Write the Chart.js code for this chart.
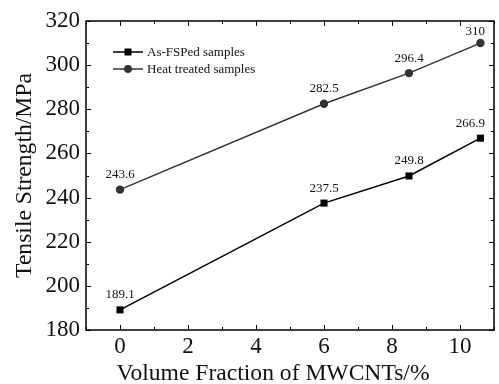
<!DOCTYPE html>
<html><head><meta charset="utf-8">
<script src="https://cdn.jsdelivr.net/npm/chart.js@4"></script>
<style>html,body{margin:0;padding:0;background:#fff}#w{width:499px;height:384px}</style>
</head><body><div id="w"><canvas id="c" width="499" height="384"></canvas></div>
<script>
const xValues = [0, 6, 8.5, 10.6];
const asFSPed = [189.1, 237.5, 249.8, 266.9];
const heatTreated = [243.6, 282.5, 296.4, 310];
const seriesNames = ['As-FSPed samples', 'Heat treated samples'];
const xTicks = [0, 2, 4, 6, 8, 10];
const yTicks = [180, 200, 220, 240, 260, 280, 300, 320];
const xTitle = 'Volume Fraction of MWCNTs/%';
const yTitle = 'Tensile Strength/MPa';
const FONT = '"Liberation Serif", "Times New Roman", serif';

const tickPlugin = {
  id: 'ticksIn',
  afterDatasetsDraw(chart) {
    const ctx = chart.ctx, a = chart.chartArea;
    const xs = chart.scales.x, ys = chart.scales.y;
    ctx.save();
    ctx.strokeStyle = '#000'; ctx.lineWidth = 1;
    for (let v = -1; v <= 11; v++) {
      const px = Math.round(xs.getPixelForValue(v)) + 0.5;
      const L = (v % 2 === 0) ? 5 : 3;
      ctx.beginPath();
      ctx.moveTo(px, a.bottom); ctx.lineTo(px, a.bottom - L);
      ctx.moveTo(px, a.top); ctx.lineTo(px, a.top + L);
      ctx.stroke();
    }
    for (let v = 180; v <= 320; v += 10) {
      const py = Math.round(ys.getPixelForValue(v)) + 0.5;
      const L = (v % 20 === 0) ? 5 : 3;
      ctx.beginPath();
      ctx.moveTo(a.left, py); ctx.lineTo(a.left + L, py);
      ctx.moveTo(a.right, py); ctx.lineTo(a.right - L, py);
      ctx.stroke();
    }
    ctx.lineWidth = 1.5;
    ctx.strokeRect(a.left, a.top, a.right - a.left, a.bottom - a.top);
    // x axis title
    ctx.fillStyle = '#111';
    ctx.font = '23.6px ' + FONT;
    ctx.textAlign = 'center'; ctx.textBaseline = 'alphabetic';
    ctx.fillText(xTitle, xs.getPixelForValue(4.5), 380);
    // data labels
    ctx.font = '13px ' + FONT;
    chart.data.datasets.forEach((ds, i) => {
      const meta = chart.getDatasetMeta(i);
      meta.data.forEach((pt, j) => {
        const txt = String(ds.data[j].y);
        const w = ctx.measureText(txt).width;
        let cx = Math.min(pt.x, a.right - 9 - w / 2);
        let by = Math.max(pt.y - 11.5, a.top + 14);
        ctx.fillText(txt, cx, by);
      });
    });
    // legend
    const lx = a.left + 27, ly = [a.top + 31, a.top + 48];
    chart.data.datasets.forEach((ds, i) => {
      const y = ly[i];
      ctx.strokeStyle = ds.borderColor; ctx.lineWidth = 1.5;
      ctx.beginPath(); ctx.moveTo(lx, y); ctx.lineTo(lx + 30, y); ctx.stroke();
      ctx.fillStyle = ds.pointBackgroundColor;
      if (i === 0) { ctx.fillRect(lx + 11.5, y - 3.5, 7, 7); }
      else { ctx.beginPath(); ctx.arc(lx + 15, y, 4, 0, Math.PI * 2); ctx.fill(); }
      ctx.fillStyle = '#111'; ctx.textAlign = 'left'; ctx.textBaseline = 'middle';
      ctx.fillText(ds.label, lx + 34, y + 0.5);
    });
    ctx.restore();
  }
};

new Chart(document.getElementById('c'), {
  type: 'line',
  data: {
    datasets: [
      { label: seriesNames[0], data: xValues.map((x, i) => ({x, y: asFSPed[i]})),
        borderColor: '#000', backgroundColor: '#000', pointBackgroundColor: '#000', pointBorderColor: '#000',
        borderWidth: 1.5, pointStyle: 'rect', pointRadius: 5, pointBorderWidth: 0, tension: 0 },
      { label: seriesNames[1], data: xValues.map((x, i) => ({x, y: heatTreated[i]})),
        borderColor: '#333', backgroundColor: '#333', pointBackgroundColor: '#333', pointBorderColor: '#333',
        borderWidth: 1.5, pointStyle: 'circle', pointRadius: 4.2, pointBorderWidth: 0, tension: 0 }
    ]
  },
  options: {
    responsive: false, animation: false, devicePixelRatio: 1,
    layout: { padding: { top: 21, right: 1, left: 0, bottom: 0 } },
    plugins: { legend: { display: false }, tooltip: { enabled: false } },
    scales: {
      x: { type: 'linear', min: -1, max: 11,
        afterBuildTicks: s => { s.ticks = xTicks.map(v => ({value: v})); },
        afterFit: s => { s.height = 54; },
        grid: { display: false, drawTicks: false },
        border: { display: false },
        ticks: { color: '#111', font: { family: FONT, size: 23 }, padding: 3 },
        title: { display: false } },
      y: { type: 'linear', min: 180, max: 320,
        afterBuildTicks: s => { s.ticks = yTicks.map(v => ({value: v})); },
        afterFit: s => { s.width = 86; },
        grid: { display: false, drawTicks: false },
        border: { display: false },
        ticks: { color: '#111', font: { family: FONT, size: 23 }, padding: 6 },
        title: { display: true, text: yTitle, color: '#111', font: { family: FONT, size: 23.6 }, padding: { top: 11, bottom: 4 } } }
    }
  },
  plugins: [tickPlugin]
});
</script></body></html>
